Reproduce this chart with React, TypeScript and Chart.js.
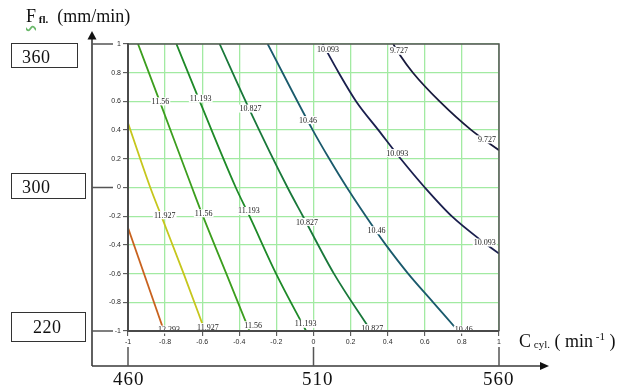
import React, { useEffect, useRef } from 'react';
import { Chart, registerables } from 'chart.js';

Chart.register(...registerables);

// ---- data (plot coordinates, coded units -1..1) ----
const levelNames = ['12.293', '11.927', '11.56', '11.193', '10.827', '10.46', '10.093', '9.727'];
const levelColors = ['#c8621e', '#c6c61c', '#3c9e1e', '#1e8a28', '#19783a', '#1a5a6c', '#1a1f4e', '#181a3c'];

// each contour: [x, y] pairs
const c12293 = [[-1, -0.28], [-0.806, -1]];
const c11927 = [[-1, 0.449], [-0.88, 0], [-0.82, -0.2], [-0.70, -0.6], [-0.585, -1]];
const c11560 = [[-0.946, 1], [-0.829, 0.6], [-0.655, 0], [-0.596, -0.2], [-0.47, -0.6], [-0.345, -1]];
const c11193 = [[-0.739, 1], [-0.613, 0.6], [-0.419, 0], [-0.345, -0.2], [-0.202, -0.6], [-0.04, -1]];
const c10827 = [[-0.506, 1], [-0.344, 0.54], [-0.14, 0], [-0.057, -0.2], [0.11, -0.6], [0.31, -1]];
const c10460 = [[-0.247, 1], [-0.004, 0.4], [0.085, 0.2], [0.18, 0], [0.335, -0.3], [0.39, -0.4], [0.51, -0.6], [0.645, -0.8], [0.78, -1]];
const c10093 = [[0.05, 1], [0.136, 0.8], [0.23, 0.6], [0.35, 0.4], [0.47, 0.2], [0.6, 0], [0.745, -0.2], [0.915, -0.38], [1, -0.46]];
const c9727 = [[0.43, 1], [0.465, 0.925], [0.536, 0.8], [0.68, 0.6], [0.851, 0.4], [1, 0.26]];
const contours = [c12293, c11927, c11560, c11193, c10827, c10460, c10093, c9727];

// contour labels
const labelText = ['11.56', '11.193', '10.827', '10.46', '10.093', '9.727', '9.727', '10.093',
  '11.927', '11.56', '11.193', '10.827', '10.46', '10.093',
  '12.293', '11.927', '11.56', '11.193', '10.827', '10.46'];
const labelX = [-0.825, -0.608, -0.34, -0.03, 0.078, 0.461, 0.935, 0.452,
  -0.802, -0.592, -0.348, -0.035, 0.339, 0.923,
  -0.779, -0.569, -0.326, -0.042, 0.317, 0.81];
const labelY = [0.6, 0.62, 0.55, 0.47, 0.965, 0.953, 0.335, 0.24,
  -0.193, -0.18, -0.163, -0.24, -0.298, -0.384,
  -0.99, -0.973, -0.96, -0.95, -0.98, -0.99];

// tick values of the inner (coded) axes
const xTicks = [-1, -0.8, -0.6, -0.4, -0.2, 0, 0.2, 0.4, 0.6, 0.8, 1];
const yTicks = [-1, -0.8, -0.6, -0.4, -0.2, 0, 0.2, 0.4, 0.6, 0.8, 1];

// outer (natural) axis labels and their coded positions
const fLabels = ['360', '300', '220'];
const fCoded = [1, 0, -1];
const cLabels = ['460', '510', '560'];
const cCoded = [-1, 0, 1];

const fmt = (v: number) => String(Math.round(v * 10) / 10);

const serif = '"Liberation Serif", "Times New Roman", serif';

const decorPlugin = {
  id: 'decor',
  afterDatasetsDraw(chart: any) {
    const { ctx, chartArea, scales } = chart;
    const sx = scales.x, sy = scales.y;
    ctx.save();
    // contour labels
    ctx.font = '8px "Liberation Serif"';
    ctx.textAlign = 'center';
    ctx.textBaseline = 'middle';
    for (let i = 0; i < labelText.length; i++) {
      const px = sx.getPixelForValue(labelX[i]);
      const py = sy.getPixelForValue(labelY[i]);
      const w = ctx.measureText(labelText[i]).width;
      ctx.fillStyle = '#ffffff';
      ctx.fillRect(px - w / 2 - 1, py - 4, w + 2, 8);
      ctx.fillStyle = '#222';
      ctx.fillText(labelText[i], px, py + 0.5);
    }
    // frame
    ctx.strokeStyle = '#555';
    ctx.lineWidth = 1.5;
    ctx.beginPath();
    ctx.moveTo(chartArea.left, chartArea.top);
    ctx.lineTo(chartArea.right, chartArea.top);
    ctx.lineTo(chartArea.right, chartArea.bottom);
    ctx.stroke();
    ctx.lineWidth = 2;
    ctx.strokeStyle = '#4a4a4a';
    ctx.beginPath();
    ctx.moveTo(chartArea.left, chartArea.top);
    ctx.lineTo(chartArea.left, chartArea.bottom);
    ctx.lineTo(chartArea.right, chartArea.bottom);
    ctx.stroke();
    ctx.restore();
  },
  afterDraw(chart: any) {
    const { ctx, scales } = chart;
    const sx = scales.x, sy = scales.y;
    const axX = 92, axY = 366;
    ctx.save();
    ctx.strokeStyle = '#3a3a3a';
    ctx.lineWidth = 1.6;
    ctx.beginPath();
    ctx.moveTo(axX, axY);
    ctx.lineTo(axX, 38);
    ctx.moveTo(axX, axY);
    ctx.lineTo(541, axY);
    ctx.stroke();
    ctx.fillStyle = '#111';
    ctx.beginPath();
    ctx.moveTo(axX, 31);
    ctx.lineTo(axX - 4.5, 39.5);
    ctx.lineTo(axX + 4.5, 39.5);
    ctx.closePath();
    ctx.fill();
    ctx.beginPath();
    ctx.moveTo(549, axY);
    ctx.lineTo(540, axY - 4);
    ctx.lineTo(540, axY + 4);
    ctx.closePath();
    ctx.fill();
    ctx.strokeStyle = '#555';
    ctx.lineWidth = 1.5;
    ctx.beginPath();
    fCoded.forEach((v) => {
      const py = sy.getPixelForValue(v);
      ctx.moveTo(axX, py);
      ctx.lineTo(113, py);
    });
    cCoded.forEach((v) => {
      const px = sx.getPixelForValue(v);
      ctx.moveTo(px, 347);
      ctx.lineTo(px, axY);
    });
    ctx.stroke();
    ctx.restore();
  },
};

export default function App() {
  const ref = useRef<HTMLCanvasElement | null>(null);

  useEffect(() => {
    document.body.style.margin = '0';
    const canvas = ref.current;
    if (!canvas) return;
    const chart = new Chart(canvas, {
      type: 'scatter',
      data: {
        datasets: contours.map((c, i) => ({
          label: levelNames[i],
          data: c.map((p) => ({ x: p[0], y: p[1] })),
          showLine: true,
          borderColor: levelColors[i],
          borderWidth: 1.8,
          pointRadius: 0,
          cubicInterpolationMode: 'monotone',
          fill: false,
        })),
      },
      options: {
        responsive: false,
        animation: false,
        events: [],
        layout: { padding: { left: 108, right: 127, top: 44, bottom: 39 } },
        plugins: { legend: { display: false }, tooltip: { enabled: false }, title: { display: false } },
        scales: {
          x: {
            type: 'linear',
            min: -1,
            max: 1,
            afterBuildTicks: (axis: any) => { axis.ticks = xTicks.map((v) => ({ value: v })); },
            afterFit: (axis: any) => { axis.height = 20; },
            grid: { color: '#a2eaa2', lineWidth: 1.3, tickLength: 5, tickColor: '#444', tickWidth: 1 },
            border: { color: '#4a4a4a', width: 2 },
            ticks: {
              autoSkip: false, maxRotation: 0, padding: 2, color: '#2a2a2a',
              font: { family: '"Liberation Sans"', size: 7 },
              callback: (v: any) => fmt(Number(v)),
            },
          },
          y: {
            type: 'linear',
            min: -1,
            max: 1,
            afterBuildTicks: (axis: any) => { axis.ticks = yTicks.map((v) => ({ value: v })); },
            afterFit: (axis: any) => { axis.width = 20; },
            grid: { color: '#a2eaa2', lineWidth: 1.3, tickLength: 5, tickColor: '#444', tickWidth: 1 },
            border: { color: '#4a4a4a', width: 2 },
            ticks: {
              autoSkip: false, padding: 2, color: '#2a2a2a',
              font: { family: '"Liberation Sans"', size: 7 },
              callback: (v: any) => fmt(Number(v)),
            },
          },
        },
      },
      plugins: [decorPlugin],
    } as any);
    return () => chart.destroy();
  }, []);

  const boxStyle = (left: number, top: number, w: number, h: number): React.CSSProperties => ({
    position: 'absolute', left, top, width: w, height: h, border: '1.3px solid #333', boxSizing: 'border-box',
  });
  const txt = (left: number, top: number, size: number, spacing = 0): React.CSSProperties => ({
    position: 'absolute', left, top, fontFamily: serif, fontSize: size, lineHeight: 'normal',
    whiteSpace: 'pre', color: '#111', letterSpacing: spacing,
  });

  const boxGeom = [[11, 43, 67, 25], [11, 173, 75, 26], [11, 312, 75, 30]];
  const boxText = [[22, 47.3], [22, 177.3], [33, 316.7]];
  const bottomLeft = [113, 302, 483];

  return (
    <div style={{ position: 'relative', width: 626, height: 390, background: '#fff', overflow: 'hidden' }}>
      <canvas ref={ref} width={626} height={390} style={{ position: 'absolute', left: 0, top: 0, width: 626, height: 390 }} />
      <div style={txt(26, 6, 18)}>
        <span style={{ textDecoration: 'underline wavy #6bb86b', textUnderlineOffset: 3 }}>F</span>
        <span style={{ fontSize: 11, fontWeight: 'bold', position: 'relative', top: 1 }}> fl.</span>
        <span>  (mm/min)</span>
      </div>
      {fLabels.map((t, i) => (
        <React.Fragment key={t}>
          <div style={boxStyle(boxGeom[i][0], boxGeom[i][1], boxGeom[i][2], boxGeom[i][3])} />
          <div style={txt(boxText[i][0], boxText[i][1], 18, 0.5)}>{t}</div>
        </React.Fragment>
      ))}
      {cLabels.map((t, i) => (
        <div key={t} style={txt(bottomLeft[i], 368, 19, 1)}>{t}</div>
      ))}
      <div style={txt(519, 330.7, 18)}>
        C<span style={{ fontSize: 11, position: 'relative', top: 1 }}> cyl.</span> ( min
        <span style={{ fontSize: 11, position: 'relative', top: -7 }}> -1</span> )
      </div>
    </div>
  );
}
